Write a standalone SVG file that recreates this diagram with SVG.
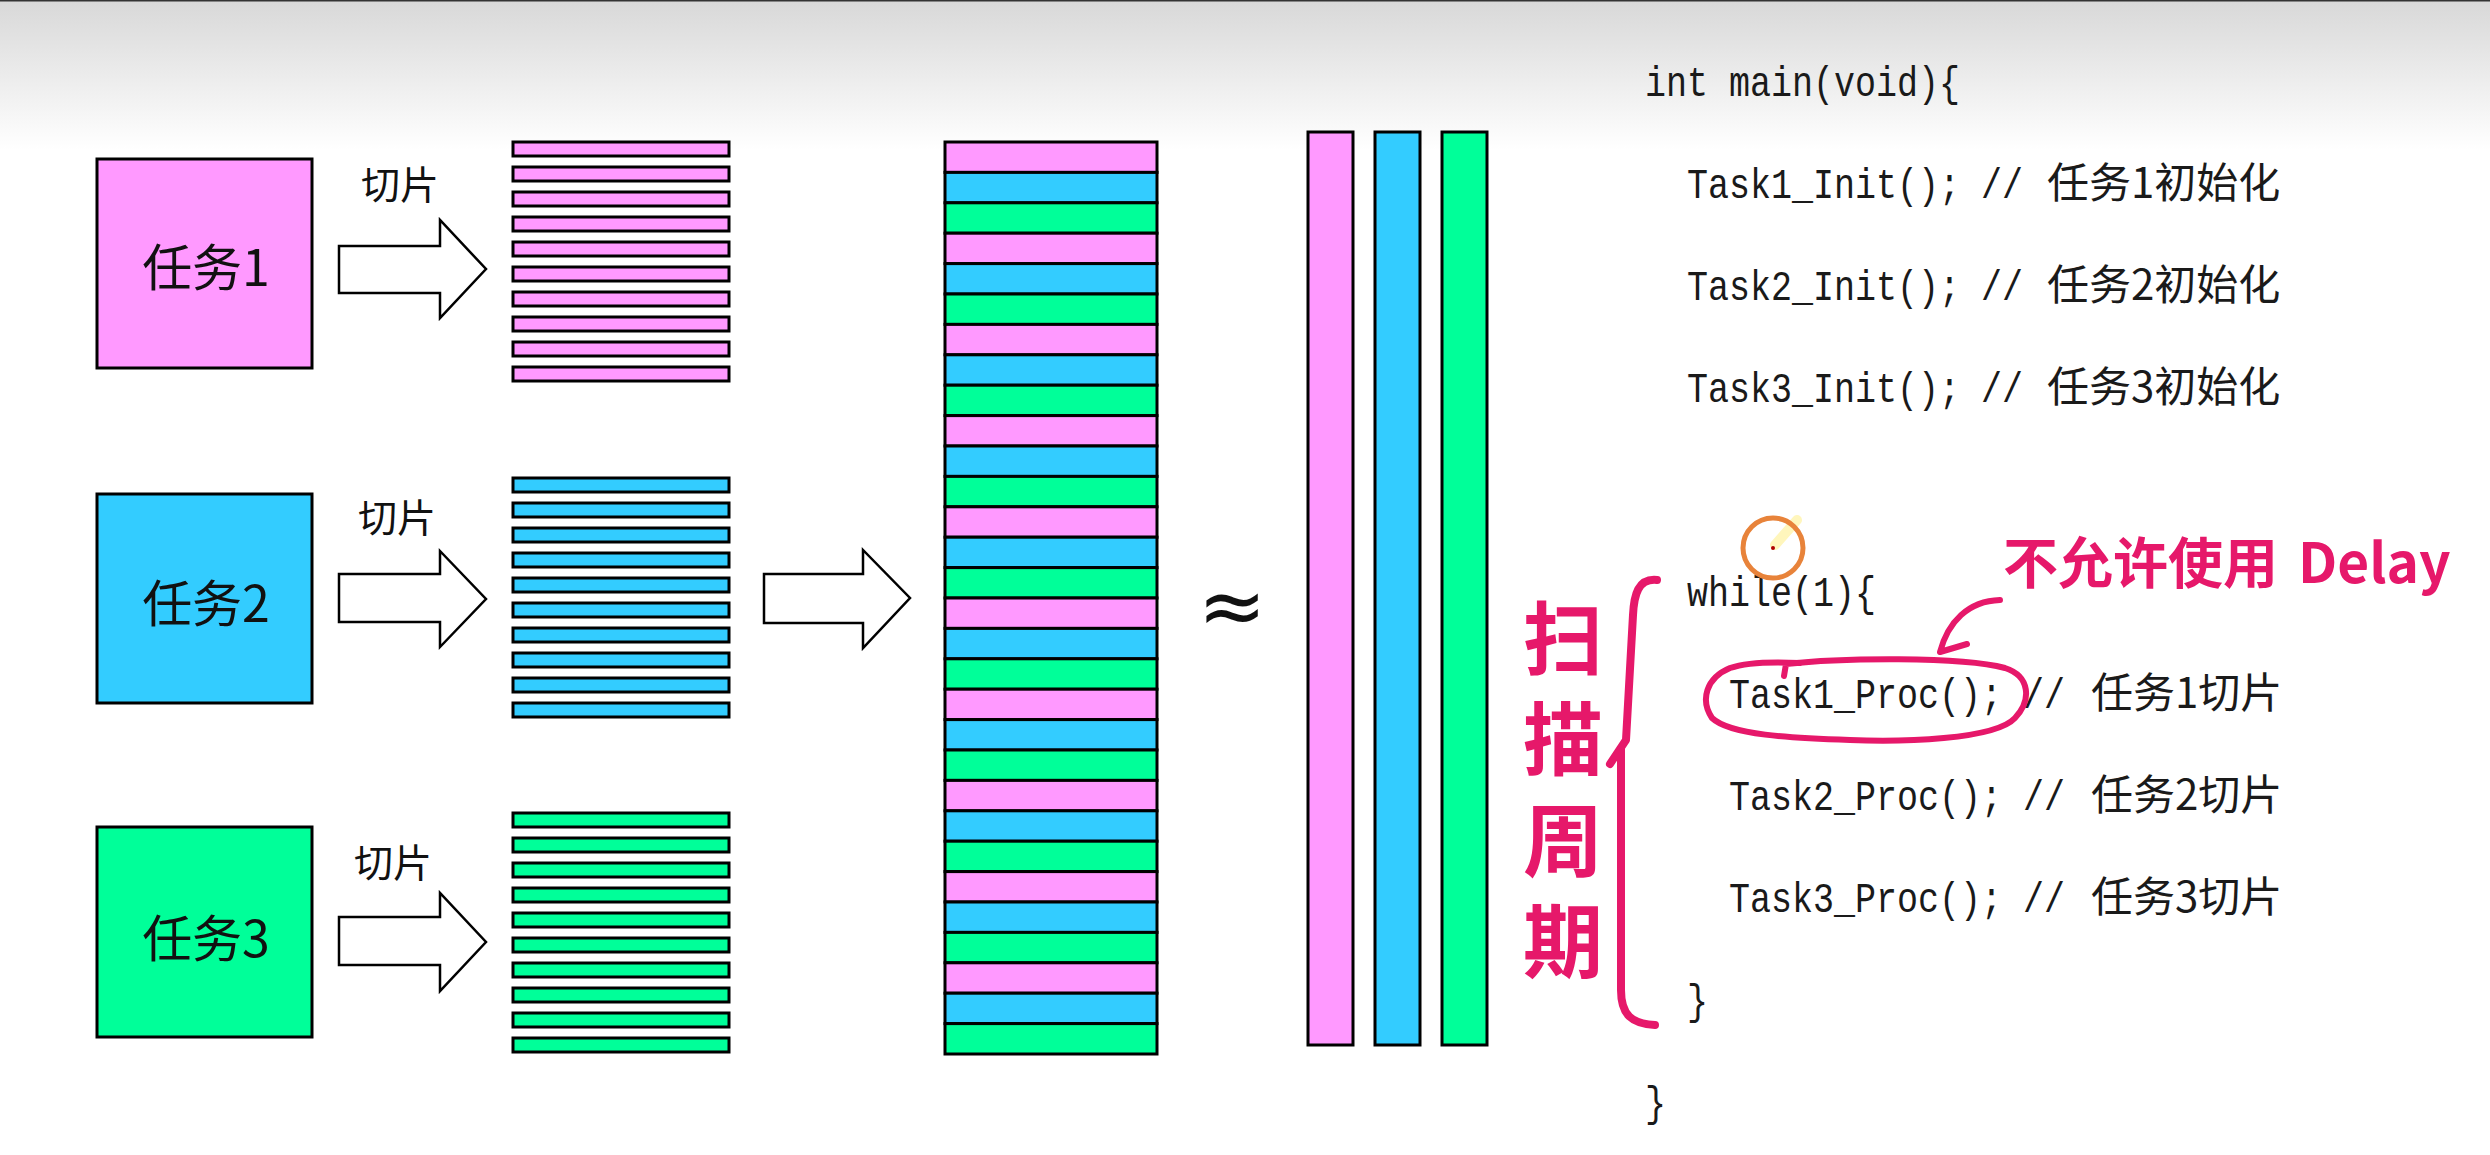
<svg xmlns="http://www.w3.org/2000/svg" width="2490" height="1155" viewBox="0 0 2490 1155">
<defs>
<linearGradient id="topfade" x1="0" y1="0" x2="0" y2="1">
<stop offset="0" stop-color="#d8d8d8"/>
<stop offset="1" stop-color="#ffffff"/>
</linearGradient>
<style>
.box{stroke:#000;stroke-width:3}
.pink{fill:#ff99ff}
.blue{fill:#33ccff}
.green{fill:#00ff99}
.bar{stroke:#000;stroke-width:3}
.hollow{fill:#fff;stroke:#000;stroke-width:2.5;stroke-linejoin:miter}
.tlabel{font-family:"Noto Sans CJK SC",sans-serif;font-size:50px;fill:#111;text-anchor:middle}
.slice{font-family:"Noto Sans CJK SC",sans-serif;font-size:39px;fill:#111;text-anchor:middle}
.code{font-family:"Liberation Mono",monospace;font-size:35px;fill:#1a1a1a}
.cjk{font-family:"Noto Sans CJK SC",sans-serif;font-size:42px;fill:#1a1a1a}
.hand{fill:none;stroke:#e6186a;stroke-linecap:round;stroke-linejoin:round}
.handtxt{font-family:"Noto Sans CJK SC",sans-serif;fill:#e6186a;font-weight:700}
</style>
</defs>
<rect x="0" y="0" width="2490" height="1155" fill="#fff"/>
<rect x="0" y="0" width="2490" height="150" fill="url(#topfade)"/>
<rect x="0" y="0" width="2490" height="1.5" fill="#333"/>

<g id="task1"><rect class="box pink" x="97" y="159" width="215" height="209"/><text class="tlabel" x="206" y="286">任务1</text></g>
<g id="task2"><rect class="box blue" x="97" y="494" width="215" height="209"/><text class="tlabel" x="206" y="622">任务2</text></g>
<g id="task3"><rect class="box green" x="97" y="827" width="215" height="210"/><text class="tlabel" x="206" y="957">任务3</text></g>

<g id="slices1">
<rect class="bar pink" x="513" y="142" width="216" height="14"/>
<rect class="bar pink" x="513" y="167" width="216" height="14"/>
<rect class="bar pink" x="513" y="192" width="216" height="14"/>
<rect class="bar pink" x="513" y="217" width="216" height="14"/>
<rect class="bar pink" x="513" y="242" width="216" height="14"/>
<rect class="bar pink" x="513" y="267" width="216" height="14"/>
<rect class="bar pink" x="513" y="292" width="216" height="14"/>
<rect class="bar pink" x="513" y="317" width="216" height="14"/>
<rect class="bar pink" x="513" y="342" width="216" height="14"/>
<rect class="bar pink" x="513" y="367" width="216" height="14"/>
</g>
<g id="slices2">
<rect class="bar blue" x="513" y="478" width="216" height="14"/>
<rect class="bar blue" x="513" y="503" width="216" height="14"/>
<rect class="bar blue" x="513" y="528" width="216" height="14"/>
<rect class="bar blue" x="513" y="553" width="216" height="14"/>
<rect class="bar blue" x="513" y="578" width="216" height="14"/>
<rect class="bar blue" x="513" y="603" width="216" height="14"/>
<rect class="bar blue" x="513" y="628" width="216" height="14"/>
<rect class="bar blue" x="513" y="653" width="216" height="14"/>
<rect class="bar blue" x="513" y="678" width="216" height="14"/>
<rect class="bar blue" x="513" y="703" width="216" height="14"/>
</g>
<g id="slices3">
<rect class="bar green" x="513" y="813" width="216" height="14"/>
<rect class="bar green" x="513" y="838" width="216" height="14"/>
<rect class="bar green" x="513" y="863" width="216" height="14"/>
<rect class="bar green" x="513" y="888" width="216" height="14"/>
<rect class="bar green" x="513" y="913" width="216" height="14"/>
<rect class="bar green" x="513" y="938" width="216" height="14"/>
<rect class="bar green" x="513" y="963" width="216" height="14"/>
<rect class="bar green" x="513" y="988" width="216" height="14"/>
<rect class="bar green" x="513" y="1013" width="216" height="14"/>
<rect class="bar green" x="513" y="1038" width="216" height="14"/>
</g>

<g id="merged">
<rect class="bar pink" x="945" y="142" width="212" height="30.4"/>
<rect class="bar blue" x="945" y="172.4" width="212" height="30.4"/>
<rect class="bar green" x="945" y="202.8" width="212" height="30.4"/>
<rect class="bar pink" x="945" y="233.2" width="212" height="30.4"/>
<rect class="bar blue" x="945" y="263.6" width="212" height="30.4"/>
<rect class="bar green" x="945" y="294" width="212" height="30.4"/>
<rect class="bar pink" x="945" y="324.4" width="212" height="30.4"/>
<rect class="bar blue" x="945" y="354.8" width="212" height="30.4"/>
<rect class="bar green" x="945" y="385.2" width="212" height="30.4"/>
<rect class="bar pink" x="945" y="415.6" width="212" height="30.4"/>
<rect class="bar blue" x="945" y="446" width="212" height="30.4"/>
<rect class="bar green" x="945" y="476.4" width="212" height="30.4"/>
<rect class="bar pink" x="945" y="506.8" width="212" height="30.4"/>
<rect class="bar blue" x="945" y="537.2" width="212" height="30.4"/>
<rect class="bar green" x="945" y="567.6" width="212" height="30.4"/>
<rect class="bar pink" x="945" y="598" width="212" height="30.4"/>
<rect class="bar blue" x="945" y="628.4" width="212" height="30.4"/>
<rect class="bar green" x="945" y="658.8" width="212" height="30.4"/>
<rect class="bar pink" x="945" y="689.2" width="212" height="30.4"/>
<rect class="bar blue" x="945" y="719.6" width="212" height="30.4"/>
<rect class="bar green" x="945" y="750" width="212" height="30.4"/>
<rect class="bar pink" x="945" y="780.4" width="212" height="30.4"/>
<rect class="bar blue" x="945" y="810.8" width="212" height="30.4"/>
<rect class="bar green" x="945" y="841.2" width="212" height="30.4"/>
<rect class="bar pink" x="945" y="871.6" width="212" height="30.4"/>
<rect class="bar blue" x="945" y="902" width="212" height="30.4"/>
<rect class="bar green" x="945" y="932.4" width="212" height="30.4"/>
<rect class="bar pink" x="945" y="962.8" width="212" height="30.4"/>
<rect class="bar blue" x="945" y="993.2" width="212" height="30.4"/>
<rect class="bar green" x="945" y="1023.6" width="212" height="30.4"/>
</g>

<g id="approx"><text x="1232" y="634" font-family="DejaVu Sans,sans-serif" font-size="82" text-anchor="middle" fill="#111">≈</text></g>

<g id="columns">
<rect class="bar pink" x="1308" y="132" width="45" height="913"/>
<rect class="bar blue" x="1375" y="132" width="45" height="913"/>
<rect class="bar green" x="1442" y="132" width="45" height="913"/>
</g>

<g id="connectors">
<g id="slice-labels">
<text class="slice" x="400" y="199">切片</text>
<text class="slice" x="397" y="532">切片</text>
<text class="slice" x="393" y="877">切片</text>
</g>
<polygon class="hollow" points="339,246 440,246 440,220 486,269 440,318 440,293 339,293"/>
<polygon class="hollow" points="339,574 440,574 440,551 486,599 440,647 440,622 339,622"/>
<polygon class="hollow" points="339,917 440,917 440,893 486,942 440,991 440,965 339,965"/>
<polygon class="hollow" points="764,574 863,574 863,550 910,598 863,648 863,623 764,623"/>
</g>

<g id="code">
<text class="code" x="1645" y="96" transform="matrix(1,0,0,1.2,0,-19.2)">int main(void){</text>
<text class="code" x="1687" y="198" transform="matrix(1,0,0,1.2,0,-39.6)">Task1_Init(); //</text>
<text class="cjk" x="2047" y="198">任务1初始化</text>
<text class="code" x="1687" y="300" transform="matrix(1,0,0,1.2,0,-60)">Task2_Init(); //</text>
<text class="cjk" x="2047" y="300">任务2初始化</text>
<text class="code" x="1687" y="402" transform="matrix(1,0,0,1.2,0,-80.4)">Task3_Init(); //</text>
<text class="cjk" x="2047" y="402">任务3初始化</text>
<text class="code" x="1687" y="606" transform="matrix(1,0,0,1.2,0,-121.2)">while(1){</text>
<text class="code" x="1729" y="708" transform="matrix(1,0,0,1.2,0,-141.6)">Task1_Proc(); //</text>
<text class="cjk" x="2091" y="708">任务1切片</text>
<text class="code" x="1729" y="810" transform="matrix(1,0,0,1.2,0,-162)">Task2_Proc(); //</text>
<text class="cjk" x="2091" y="810">任务2切片</text>
<text class="code" x="1729" y="912" transform="matrix(1,0,0,1.2,0,-182.4)">Task3_Proc(); //</text>
<text class="cjk" x="2091" y="912">任务3切片</text>
<text class="code" x="1687" y="1014" transform="matrix(1,0,0,1.2,0,-202.8)">}</text>
<text class="code" x="1645" y="1116" transform="matrix(1,0,0,1.2,0,-223.2)">}</text>
</g>

<g id="annotations">
<path class="hand" stroke-width="8" d="M1657,580 C1638,578 1634,595 1633,615 L1626,740 L1610,764 M1621,748 L1621,990 C1621,1015 1632,1024 1655,1025"/>
<text class="handtxt" x="1563" y="598" font-size="80" writing-mode="vertical-rl" letter-spacing="21">扫描周期</text>
<path class="hand" stroke-width="6" d="M1784,676 L1786,664 C1840,658 1960,656 2005,668 C2030,676 2032,700 2015,718 C1995,740 1900,742 1850,740 C1790,738 1730,735 1712,718 C1700,700 1706,678 1730,668 C1750,661 1780,662 1800,663"/>
<path class="hand" stroke-width="6" d="M2000,600 C1968,601 1948,622 1940,652 L1967,644"/>
<text class="handtxt" font-size="55" x="2003" y="583">不允许使用<tspan dx="20">Delay</tspan></text>
</g>

<g id="cursor">
<line x1="1775" y1="545" x2="1797" y2="520" stroke="#fff3a0" stroke-width="10" stroke-linecap="round" opacity="0.7"/>
<circle cx="1773" cy="548" r="30" fill="none" stroke="#e8833a" stroke-width="5"/>
<circle cx="1773" cy="548" r="2" fill="#b00000"/>
</g>
</svg>
